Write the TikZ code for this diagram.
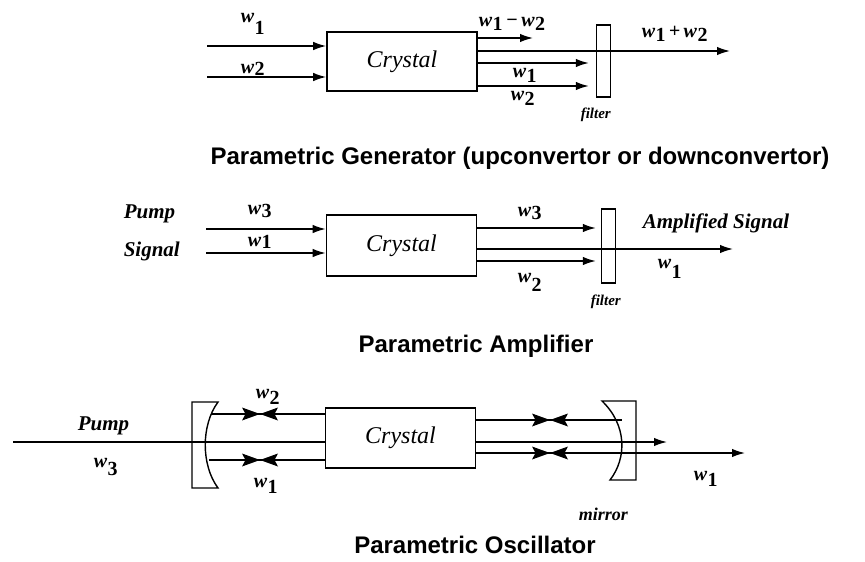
\documentclass[tikz,border=0pt]{standalone}
\usepackage{fontspec}
\setmainfont{Liberation Serif}
\newfontfamily\sansT{Liberation Sans}
\usetikzlibrary{arrows.meta}
\newcommand\wsub[2]{\textit{w}\kern0.5pt\raisebox{-#1}{\upshape #2}}
\tikzset{
  arr/.style={-{Latex[length=13pt,width=8.5pt]}},
  crys/.style={draw, line width=1.6pt, minimum width=150pt, inner sep=0pt,
    font=\fontsize{24}{24}\selectfont\itshape},
  filt/.style={draw, line width=1.4pt, minimum width=14pt, inner sep=0pt},
  lab/.style={inner sep=0pt, anchor=base west, font=\fontsize{20}{20}\selectfont\bfseries\itshape},
  big/.style={inner sep=0pt, anchor=base west, font=\fontsize{21}{21}\selectfont\bfseries\itshape},
  small/.style={inner sep=0pt, anchor=base west, font=\fontsize{15}{15}\selectfont\bfseries\itshape},
  ttl/.style={inner sep=0pt, anchor=base, font=\sansT\bfseries\fontsize{24}{24}\selectfont},
  bowtie/.pic={\fill (-18,-6.5) -- (0,0) -- (-18,6.5) -- (-14.5,0) -- cycle;
               \fill (18,-6.5) -- (0,0) -- (18,6.5) -- (14.5,0) -- cycle;}
}
\begin{document}
\begin{tikzpicture}[x=1pt,y=-1pt,line width=1.5pt]
\useasboundingbox (0,0) rectangle (865,562);
% ---------- Generator ----------
\node[crys, minimum height=59pt] (c1) at (402,61.5) {Crystal};
\node[filt, minimum height=72pt] (f1) at (603.5,61) {};
\coordinate (a1) at (207,46);
\coordinate (a2) at (207,77);
\draw[arr] (a1) -- (a1 -| c1.west);
\draw[arr] (a2) -- (a2 -| c1.west);
\coordinate (b1) at (533,38);
\coordinate (b2) at (730,51);
\coordinate (b3) at (0,63);
\coordinate (b4) at (0,86);
\draw[arr] (b1 -| c1.east) -- (b1);
\draw[arr] (b2 -| c1.east) -- (b2);
\draw[arr, shorten >=7pt] (b3 -| c1.east) -- (b3 -| f1.west);
\draw[arr, shorten >=7pt] (b4 -| c1.east) -- (b4 -| f1.west);
\node[lab] (l1) at (240,23) {\wsub{12pt}{1}};
\node[lab] (l2) at (240,73) {\wsub{2pt}{2}};
\node[lab] (l3) at (478,26) {\wsub{5pt}{1}\,−\,\wsub{4pt}{2}};
\node[lab] (l4) at (641,37) {\wsub{5pt}{1}\,+\,\wsub{5pt}{2}};
\node[lab] (l5) at (512,77) {\wsub{5pt}{1}};
\node[lab] (l6) at (510,100) {\wsub{5pt}{2}};
\node[small] (l7) at (580,118) {filter};
\node[ttl] (t1) at (520,164) {Parametric Generator (upconvertor or downconvertor)};
% ---------- Amplifier ----------
\node[crys, minimum height=61pt] (c2) at (401.5,245.5) {Crystal};
\node[filt, minimum height=74pt] (f2) at (608.5,246) {};
\coordinate (d1) at (206,229);
\coordinate (d2) at (206,253);
\draw[arr] (d1) -- (d1 -| c2.west);
\draw[arr] (d2) -- (d2 -| c2.west);
\coordinate (e1) at (0,228);
\coordinate (e2) at (733,249);
\coordinate (e3) at (0,261);
\draw[arr, shorten >=5pt] (e1 -| c2.east) -- (e1 -| f2.west);
\draw[arr] (e2 -| c2.east) -- (e2);
\draw[arr, shorten >=5pt] (e3 -| c2.east) -- (e3 -| f2.west);
\node[big] (m1) at (123,218) {Pump};
\node[big] (m2) at (123,256) {Signal};
\node[lab] (m3) at (247,214) {\wsub{3pt}{3}};
\node[lab] (m4) at (247,246) {\wsub{2pt}{1}};
\node[lab] (m5) at (517,216) {\wsub{3pt}{3}};
\node[lab] (m6) at (517,282) {\wsub{9pt}{2}};
\node[lab] (m7) at (657,268) {\wsub{10pt}{1}};
\node[big] (m8) at (642,228) {Amplified Signal};
\node[small] (m9) at (590,305) {filter};
\node[ttl] (t2) at (476,352) {Parametric Amplifier};
% ---------- Oscillator ----------
\node[crys, minimum height=60pt] (c3) at (400.5,438) {Crystal};
\draw[line width=1.4pt] (192,402) -- (218,402) .. controls (201,425) and (201,465) .. (218,488) -- (192,488) -- cycle;
\draw[line width=1.4pt] (636,401) -- (602,401) .. controls (627,425) and (627,458) .. (610,480) -- (636,480) -- cycle;
\coordinate (p0) at (13,442);
\draw (p0) -- (p0 -| c3.west);
\coordinate (q1) at (211,414);
\coordinate (q2) at (209,460);
\draw (q1) -- (q1 -| c3.west);
\draw (q2) -- (q2 -| c3.west);
\pic at (260,414) {bowtie};
\pic at (260,460) {bowtie};
\coordinate (r1) at (622,420);
\coordinate (r2) at (667,442);
\coordinate (r3) at (745,453);
\draw (r1 -| c3.east) -- (r1);
\draw[arr] (r2 -| c3.east) -- (r2);
\draw[arr] (r3 -| c3.east) -- (r3);
\pic at (550,420) {bowtie};
\pic at (550,453) {bowtie};
\node[big] (s1) at (77,430) {Pump};
\node[lab] (s2) at (93,467) {\wsub{8pt}{3}};
\node[lab] (s3) at (255,398) {\wsub{6pt}{2}};
\node[lab] (s4) at (253,487) {\wsub{6pt}{1}};
\node[lab] (s5) at (693,480) {\wsub{6pt}{1}};
\node[small, font=\fontsize{18}{18}\selectfont\bfseries\itshape] (s6) at (578,520) {mirror};
\node[ttl] (t3) at (475,553) {Parametric Oscillator};
\end{tikzpicture}
\end{document}
